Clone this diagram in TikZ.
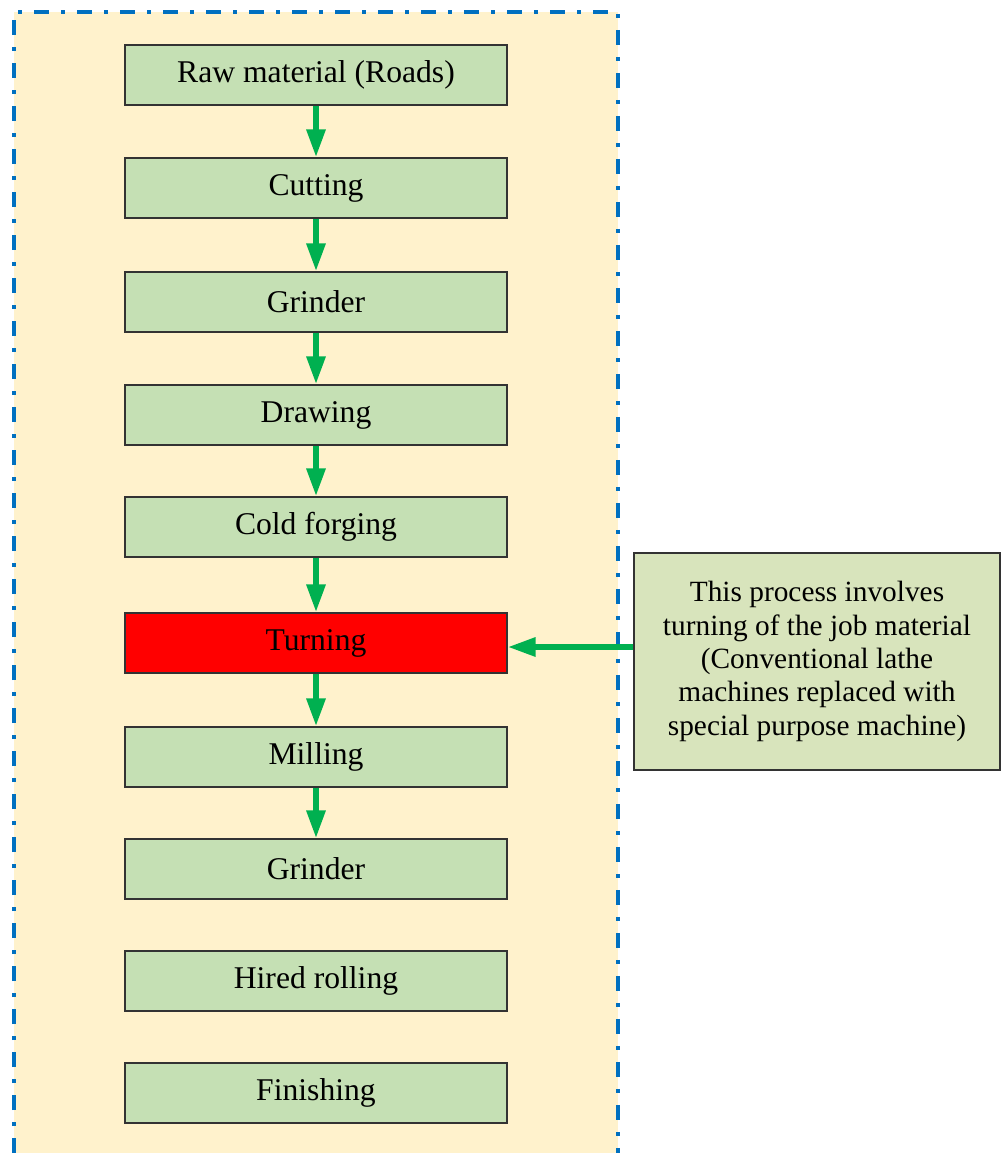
\documentclass[tikz,border=0pt]{standalone}
\usepackage{fontspec}
\setmainfont{Liberation Serif}
\newfontfamily\boxfont{Liberation Serif}
\usepackage{tikz}
\usetikzlibrary{arrows.meta, positioning}
\usepackage{xcolor}
\definecolor{panelcream}{RGB}{255,242,204}
\definecolor{panelblue}{RGB}{0,112,192}
\definecolor{stepgreen}{RGB}{197,224,180}
\definecolor{notegreen}{RGB}{216,228,188}
\definecolor{flowgreen}{RGB}{0,176,80}
\definecolor{hotred}{RGB}{255,0,0}
\tikzset{
    % process steps
    stepbox/.style={rectangle, draw=black!80, line width=0.7pt, fill=#1,
                minimum width=7.64cm, minimum height=1.2cm, align=center,
                font=\boxfont\fontsize{18}{21}\selectfont},
    stepbox/.default=stepgreen,
    % side note
    notebox/.style={rectangle, draw=black!80, line width=0.7pt, fill=notegreen,
                minimum width=7.32cm, minimum height=4.34cm, align=center,
                font=\boxfont\fontsize{16.7}{19}\selectfont},
    % arrows
    garrow/.style={-{Triangle[length=5.6mm, width=3.6mm]}, line width=3.4pt, flowgreen},
    % outer panel
    panel/.style={draw=panelblue, line width=2.3pt,
                dash pattern=on 0.30cm off 0.24cm on 0.08cm off 0.24cm},
}
\begin{document}
\begin{tikzpicture}
\useasboundingbox (0,0) rectangle (20.12,-23.06);

\fill[panelcream] (0.28,-0.24) rectangle (12.36,-23.06);
\draw[panel] (0.28,-23.06) -- (0.28,-0.24) -- (12.36,-0.24) -- (12.36,-23.06);

\node[stepbox] (raw)    at (6.32,-1.50)  {Raw material (Roads)};
\node[stepbox] (cut)    at (6.32,-3.76)  {Cutting};
\node[stepbox] (grind)  at (6.32,-6.04)  {Grinder};
\node[stepbox] (draw)   at (6.32,-8.30)  {Drawing};
\node[stepbox] (forge)  at (6.32,-10.54) {Cold forging};
\node[stepbox=hotred] (turn) at (6.32,-12.86) {Turning};
\node[stepbox] (mill)   at (6.32,-15.14) {Milling};
\node[stepbox] (grindb) at (6.32,-17.38) {Grinder};
\node[stepbox] (roll)   at (6.32,-19.62) {Hired rolling};
\node[stepbox] (finish) at (6.32,-21.86) {Finishing};

\node[notebox] (note) at (16.34,-13.23) {This process involves\\turning of the job material\\(Conventional lathe\\machines replaced with\\special purpose machine)};

\draw[garrow] (raw) -- (cut);
\draw[garrow] (cut) -- (grind);
\draw[garrow] (grind) -- (draw);
\draw[garrow] (draw) -- (forge);
\draw[garrow] (forge) -- (turn);
\draw[garrow] (turn) -- (mill);
\draw[garrow] (mill) -- (grindb);

\draw[garrow] ([yshift=-0.08cm]note.west |- turn.east) -- ([yshift=-0.08cm]turn.east);
\end{tikzpicture}
\end{document}
